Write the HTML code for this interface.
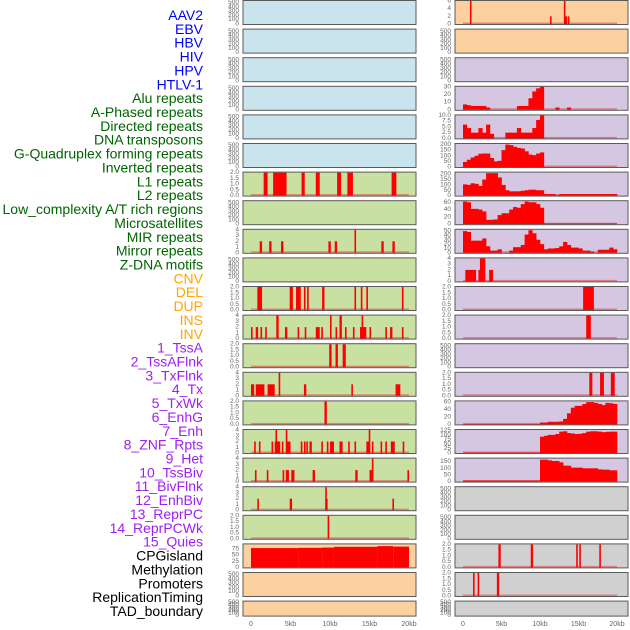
<!DOCTYPE html>
<html><head><meta charset="utf-8"><style>
html,body{margin:0;padding:0;background:#fff;width:630px;height:630px;overflow:hidden}
svg{display:block;font-family:"Liberation Sans",sans-serif}
</style></head><body>
<svg id="chart" width="630" height="630" viewBox="0 0 630 630" xmlns="http://www.w3.org/2000/svg">
<g id="labels"></g>
<g id="panels"></g>
<g id="xaxes"></g>
</svg>
<script>
// ---- data ----
const trackLabels = ["AAV2","EBV","HBV","HIV","HPV","HTLV-1","Alu repeats","A-Phased repeats","Directed repeats","DNA transposons","G-Quadruplex forming repeats","Inverted repeats","L1 repeats","L2 repeats","Low_complexity A/T rich regions","Microsatellites","MIR repeats","Mirror repeats","Z-DNA motifs","CNV","DEL","DUP","INS","INV","1_TssA","2_TssAFlnk","3_TxFlnk","4_Tx","5_TxWk","6_EnhG","7_Enh","8_ZNF_Rpts","9_Het","10_TssBiv","11_BivFlnk","12_EnhBiv","13_ReprPC","14_ReprPCWk","15_Quies","CPGisland","Methylation","Promoters","ReplicationTiming","TAD_boundary"];
const labelColors = ["#0000ff","#006400","#ffa500","#a020f0","#000000"];
const labelGroupSizes = [6,13,5,15,5];
const xTickValues = [0,5,10,15,20];
const xTickLabels = ["0","5kb","10kb","15kb","20kb"];

// left column segment data [startKb, endKb, value]
const L6 = [[1.6,2.1,2],[2.8,4.5,2],[6.4,6.8,2],[8.2,8.7,2],[10.9,11.4,2],[12.2,12.9,2],[17.8,18.4,2]];
const L8 = [[1.1,1.4,2],[2.3,2.6,2],[3.8,4.1,2],[9.8,10.1,2],[10.6,10.9,2],[13.1,13.3,4],[16.5,16.8,2],[17.9,18.2,2]];
const L10 = [[0.8,1.4,2],[4.9,5.3,2],[5.7,6.3,2],[6.7,6.9,2],[7.1,7.3,2],[9.0,9.3,2],[13.1,13.3,2],[13.9,14.1,2],[14.6,14.8,2],[19.1,19.3,2]];
const L11 = [[0,0.2,2],[0.6,0.9,2],[1.2,1.4,2],[1.8,2.0,2],[3.2,3.5,4],[4.3,4.6,2],[5.9,6.1,2],[6.8,7.0,2],[8.2,8.7,2],[8.9,9.1,2],[10.0,10.2,4],[10.7,10.9,2],[11.2,11.5,4],[11.9,12.1,2],[12.9,13.1,2],[13.8,14.6,2],[14.0,14.2,4],[15.0,15.2,2],[17.0,17.2,2],[17.6,17.9,2],[19.1,19.3,2]];
const L12 = [[9.9,10.2,2],[10.7,11.0,2],[11.6,12.0,2]];
const L13 = [[0,0.4,2],[0.6,1.7,2],[2.1,3.0,2],[3.5,3.7,4],[6.7,7.0,2],[12.7,12.9,2],[18.3,18.9,2]];
const L14 = [[9.3,9.6,2]];
const L15 = [[0.4,0.6,2],[1.0,1.2,2],[2.6,2.8,2],[3.0,3.7,2],[3.1,3.3,4],[3.9,4.1,2],[4.4,4.6,4],[4.5,5.0,2],[6.3,6.5,2],[6.7,6.9,2],[7.0,7.2,2],[7.4,7.7,2],[8.9,9.1,2],[9.6,9.8,2],[10.0,10.5,2],[11.2,11.6,2],[12.3,12.5,2],[13.1,13.3,2],[14.6,15.0,2],[14.9,15.1,4],[15.3,15.5,2],[16.4,16.6,2],[17.0,17.2,2],[17.7,18.2,2],[19.2,19.4,2]];
const L16 = [[0.5,0.7,2],[2.0,2.2,2],[4.0,4.2,2],[4.4,4.8,2],[5.1,5.5,2],[7.8,8.1,2],[13.2,13.5,2],[15.0,15.4,2],[15.3,15.5,4],[19.8,20.0,2]];
const L17 = [[0.8,1.0,2],[4.9,5.2,2],[9.4,9.7,2],[9.4,9.6,4],[17.9,18.1,2]];
const L18 = [[9.7,9.9,2]];
const L19 = [[0,6,79],[6,9,80],[9,10.5,81],[10.5,16,84],[16,18,87],[18,20,85]];

// right column
const R0 = [[0.9,1.1,6],[11.3,11.5,2],[13.1,13.3,6],[13.3,13.5,2],[13.6,13.8,2]];
const R9 = [[0.3,1.7,2],[2.0,2.2,2],[2.2,2.9,4],[3.4,3.9,2]];
const R10 = [[15.6,17.0,2]];
const R11 = [[16.0,16.6,2]];
const R13 = [[16.4,16.8,2],[17.8,18.3,2],[19.2,19.7,2]];
const R19 = [[4.6,4.9,2],[8.8,9.1,2],[14.7,14.9,2],[15.1,15.3,2],[17.7,17.9,2]];
const R20 = [[1.3,1.5,2],[1.9,2.1,2],[4.4,4.7,2]];
// binned profiles (0.5kb bins starting at 0)
const R3 = [7,6,5,5,5,5,3,0,0,0,0,0,0,0,5,5,5,15,24,28,30,0,0,0,3,0,0,3,0,0,0,0,0,0,0,0,0,0,0,0];
const R4 = [6,4.5,2.5,2.5,4.5,2.5,6,2,0,0,0,2.5,2.5,2.5,4.5,2.5,2.5,2.5,4.5,8,10,0,0,0,0,0,0,0,0,0,0,0,0,0,0,0,0,0,0,0];
const R5 = [45,65,85,100,118,120,120,80,50,55,150,200,195,180,170,165,140,110,105,120,130,0,0,0,0,0,0,0,0,0,0,0,0,0,0,0,0,0,0,0];
const R6 = [105,100,115,110,90,150,210,210,210,170,100,50,40,40,40,45,50,55,55,50,50,15,15,15,5,15,15,15,15,15,15,15,15,15,15,15,15,15,15,15];
const R7 = [62,60,42,42,40,35,12,12,13,25,30,30,40,47,45,55,62,60,60,55,45,2,2,2,2,2,2,2,2,2,2,2,2,2,2,2,2,2,2,2];
const R8 = [50,48,28,28,28,33,15,5,5,8,0,0,5,13,13,18,42,52,45,30,20,8,10,10,11,15,25,18,12,12,10,5,5,3,0,7,7,7,12,8];
const R14 = [1,1,1,1,1,1,1,1,1,1,1,1,1,1,1,1,1,1,1,1,5,5,7,7,7,8,15,30,45,50,50,55,60,60,58,55,52,58,57,55];
const R15 = [2,2,2,2,2,2,2,2,2,2,2,2,2,2,2,2,2,2,2,2,90,95,100,100,105,118,120,110,108,105,106,110,118,120,120,118,115,117,118,118];
const R16 = [8,8,8,8,8,8,8,8,8,8,8,8,8,8,8,8,8,8,8,8,165,165,160,155,155,145,120,120,105,105,105,100,100,100,100,92,90,90,85,85];

const ticksEmpty = [0,100,200,300,400,500];
const ticks2 = [0,0.5,1,1.5,2];
const ticks4 = [0,1,2,3,4];

// ---- layout helpers ----
const NS = "http://www.w3.org/2000/svg";
function mk(tag, attrs, parent){const e=document.createElementNS(NS,tag);for(const k in attrs)e.setAttribute(k,attrs[k]);parent.appendChild(e);return e;}
const rowTop = i => i*28.6;
const rowH = i => i===21 ? 16 : 25;
const cols = [{x0:243,x1:416,k0:251,k1:409,tx:239},{x0:455,x1:628,k0:463,k1:617,tx:451}];
const xScale = (c,kb) => cols[c].k0 + kb*(cols[c].k1-cols[c].k0)/20;

const BLUE="#c9e4ec", GREEN="#c8e0a2", ORANGE="#fdd09f", PURPLE="#d5c6e2", GRAY="#d0d0d0";
function bgFor(c,r){
  if(c===0) return r<=5?BLUE:(r<=18?GREEN:ORANGE);
  return r<=1?ORANGE:(r<=16?PURPLE:GRAY);
}
const specs = {
 "0-6":{ymax:2,ticks:ticks2,segs:L6},"0-8":{ymax:4,ticks:ticks4,segs:L8},
 "0-10":{ymax:2,ticks:ticks2,segs:L10},"0-11":{ymax:4,ticks:ticks4,segs:L11},
 "0-12":{ymax:2,ticks:ticks2,segs:L12},"0-13":{ymax:4,ticks:ticks4,segs:L13},
 "0-14":{ymax:2,ticks:ticks2,segs:L14},"0-15":{ymax:4,ticks:ticks4,segs:L15},
 "0-16":{ymax:4,ticks:ticks4,segs:L16},"0-17":{ymax:4,ticks:ticks4,segs:L17},
 "0-18":{ymax:2,ticks:ticks2,segs:L18},"0-19":{ymax:94,ticks:[0,25,50,75],segs:L19},
 "1-0":{ymax:6,ticks:[0,2,4,6],segs:R0},
 "1-3":{ymax:30,ticks:[0,10,20,30],bins:R3},"1-4":{ymax:10,ticks:[0,2.5,5,7.5,10],bins:R4,fmt:1},
 "1-5":{ymax:205,ticks:[0,50,100,150,200],bins:R5},"1-6":{ymax:215,ticks:[0,50,100,150,200],bins:R6},
 "1-7":{ymax:63,ticks:[0,20,40,60],bins:R7},"1-8":{ymax:53,ticks:[0,10,20,30,40,50],bins:R8},
 "1-9":{ymax:4,ticks:ticks4,segs:R9},"1-10":{ymax:2,ticks:ticks2,segs:R10},
 "1-11":{ymax:2,ticks:ticks2,segs:R11},"1-13":{ymax:2,ticks:ticks2,segs:R13},
 "1-14":{ymax:62,ticks:[0,20,40,60],bins:R14},"1-15":{ymax:127,ticks:[0,25,50,75,100,125],bins:R15},
 "1-16":{ymax:173,ticks:[0,50,100,150],bins:R16},
 "1-19":{ymax:2,ticks:ticks2,segs:R19},"1-20":{ymax:2,ticks:ticks2,segs:R20}
};
function fmtTick(v,s){ if(s.ymax<=2.1) return v.toFixed(1); if(s.fmt) return v.toFixed(1); return String(v); }

// ---- labels ----
const lg = document.getElementById('labels');
let idx=0;
labelGroupSizes.forEach((n,g)=>{ for(let j=0;j<n;j++){ const t=mk('text',{x:203,y:15+idx*13.86,'text-anchor':'end','dominant-baseline':'central','font-size':14,fill:labelColors[g]},lg);
 
 
 t.textContent=trackLabels[idx]; idx++; }});

// ---- panels ----
const pg = document.getElementById('panels');
for(let c=0;c<2;c++){
 for(let r=0;r<22;r++){
  const top=rowTop(r), h=rowH(r), bot=top+h;
  const s = specs[c+"-"+r] || {ymax:540,ticks:ticksEmpty};
  const g = mk('g',{},pg);
  
  
  mk('rect',{x:cols[c].x0,y:top+0.5,width:cols[c].x1-cols[c].x0,height:h-1,fill:bgFor(c,r)},g);
  const yS = v => bot-1 - v/s.ymax*(h-2);
  if(s.segs || s.bins){
    const bl = mk('rect',{x:xScale(c,0),y:bot-2.5,width:xScale(c,20)-xScale(c,0),height:1.5,fill:'rgba(230,60,60,0.55)'},g);
    
    
  }
  if(s.segs){ s.segs.forEach(d=>{ const x0=xScale(c,d[0]), x1=xScale(c,d[1]);
    const b=mk('rect',{x:x0,y:yS(d[2]),width:Math.max(1.6,x1-x0),height:bot-1-yS(d[2]),fill:'#ff0000'},g);
    
     }); }
  if(s.bins){ s.bins.forEach((v,k)=>{ if(v<=0) return; let e=(k+1)*0.5; if(e>20) e=20;
    const x0=xScale(c,k*0.5), x1=xScale(c,e);
    const b=mk('rect',{x:x0,y:yS(v),width:x1-x0+0.3,height:bot-1-yS(v),fill:'#ff0000'},g);
    
     }); }
  mk('rect',{x:cols[c].x0,y:top+0.5,width:cols[c].x1-cols[c].x0,height:h-1,fill:'none',stroke:'#5a5a5a','stroke-width':1},g);
  s.ticks.forEach(v=>{ const y=yS(v); if(y<top-2) return;
    const t=mk('text',{x:cols[c].tx,y:y,'text-anchor':'end','dominant-baseline':'central','font-size':6.5,fill:'#666'},g);
    
    
    t.textContent=fmtTick(v,s); });
 }
}
// ---- x axes ----
const xg=document.getElementById('xaxes');
for(let c=0;c<2;c++){ xTickValues.forEach((v,k)=>{ const t=mk('text',{x:xScale(c,v),y:626,'text-anchor':'middle','font-size':7,fill:'#666'},xg);
 
 
 t.textContent=xTickLabels[k]; }); }
</script>
</body></html>
